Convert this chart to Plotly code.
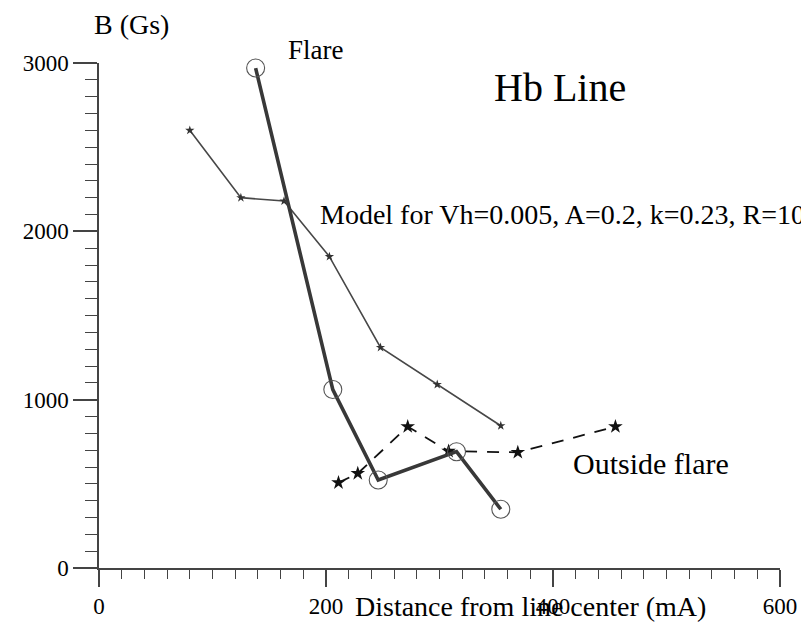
import plotly.graph_objects as go

# Data
model_x = [80, 125, 163, 203, 248, 298, 354]
model_y = [2600, 2200, 2180, 1850, 1310, 1090, 845]

flare_x = [138, 206, 246, 315, 354]
flare_y = [2970, 1060, 523, 691, 349]

outside_x = [211, 228, 272, 308, 369, 455]
outside_y = [507, 562, 840, 694, 687, 840]

x_ticks = [0, 200, 400, 600]
y_ticks = [0, 1000, 2000, 3000]

FONT = "Liberation Serif"

fig = go.Figure()

fig.add_trace(go.Scatter(
    x=model_x, y=model_y, mode="lines+markers",
    line=dict(color="#474747", width=1.6),
    marker=dict(symbol="star", size=7, color="#333333"),
    showlegend=False, cliponaxis=False))

fig.add_trace(go.Scatter(
    x=outside_x, y=outside_y, mode="lines+markers",
    line=dict(color="#111111", width=1.8, dash="12px,10px"),
    marker=dict(symbol="star", size=11, color="#111111"),
    showlegend=False, cliponaxis=False))

fig.add_trace(go.Scatter(
    x=flare_x, y=flare_y, mode="lines",
    line=dict(color="#383838", width=3.6),
    showlegend=False, cliponaxis=False))

fig.add_trace(go.Scatter(
    x=flare_x, y=flare_y, mode="markers",
    marker=dict(symbol="circle-open", size=18, color="#555555", line=dict(width=1.1)),
    showlegend=False, cliponaxis=False))

axis_common = dict(
    showline=True, linecolor="#444444", linewidth=1.5,
    showgrid=False, zeroline=False, ticks="outside",
    tickcolor="#444444", tickwidth=1.5, automargin=False,
    tickfont=dict(family=FONT, size=23, color="black"),
)

fig.update_xaxes(
    range=[0, 600], tickvals=x_ticks, ticktext=[str(v) for v in x_ticks],
    ticklen=17,
    minor=dict(dtick=20, ticklen=9, ticks="outside", tickcolor="#444444", tickwidth=1.3),
    **axis_common)
fig.update_yaxes(
    range=[0, 3000], tickvals=y_ticks, ticktext=[str(v) for v in y_ticks],
    ticklen=24,
    minor=dict(dtick=100, ticklen=12, ticks="outside", tickcolor="#444444", tickwidth=1.3),
    **axis_common)

ann = []
def txt(text, x, y, size, xref="x", yref="y", xanchor="center"):
    ann.append(dict(text=text, x=x, y=y, xref=xref, yref=yref, showarrow=False,
                    xanchor=xanchor, yanchor="middle",
                    font=dict(family=FONT, size=size, color="black")))

def px_x(p):  # page pixel -> paper fraction of plot area
    return (p - 99) / 681

def px_y(p):
    return (568 - p) / 505

txt("Flare", px_x(315), px_y(50), 27, xref="paper", yref="paper")
txt("Hb Line", 406, 2857, 40)
txt("Model for Vh=0.005, A=0.2, k=0.23, R=10", 193, 2100, 28, xanchor="left")
txt("Outside flare", 416, 620, 30, xanchor="left")
txt("B (Gs)", px_x(131), px_y(25), 28, xref="paper", yref="paper")
txt("Distance from line center (mA)", px_x(530), px_y(606), 28,
    xref="paper", yref="paper")

# page body has an 8px default margin, so the figure is sized/offset to compensate
fig.update_layout(
    width=801, height=616,
    margin=dict(l=91, r=29, t=55, b=56, pad=0, autoexpand=False),
    paper_bgcolor="white", plot_bgcolor="white",
    annotations=ann,
)

fig.write_html("out.html")
